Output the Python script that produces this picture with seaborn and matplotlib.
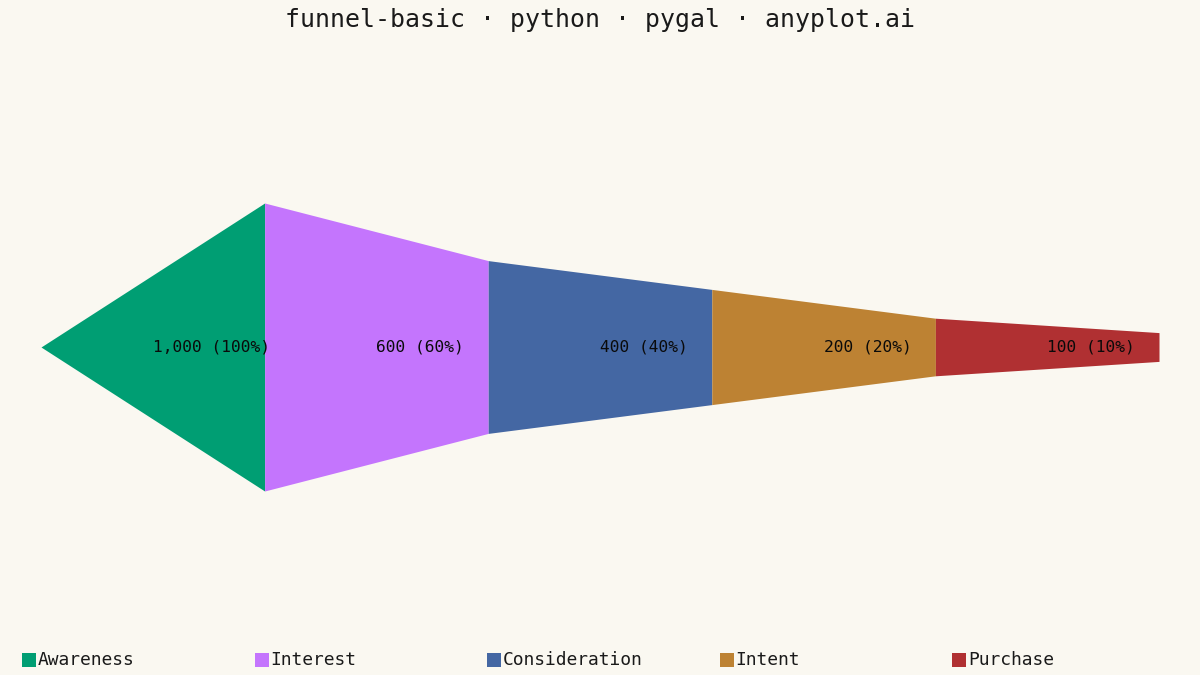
import matplotlib.pyplot as plt
import seaborn as sns
from matplotlib.patches import Rectangle

# Funnel data
stages = ['Awareness', 'Interest', 'Consideration', 'Intent', 'Purchase']
values = [1000, 600, 400, 200, 100]
colors = ['#009E73', '#C475FD', '#4467A3', '#BD8233', '#B03032']
title = 'funnel-basic · python · pygal · anyplot.ai'

bg = '#FAF8F1'
sns.set_theme(style='white')
plt.rcParams['font.family'] = ['DejaVu Sans Mono', 'DejaVu Sans']

fig = plt.figure(figsize=(12, 6.75), dpi=100, facecolor=bg)
ax = fig.add_axes([41 / 1200, (675 - 491) / 675, (1159 - 41) / 1200, 288 / 675])
ax.set_facecolor(bg)

# each segment tapers from the previous stage's width to its own
prev = [0] + values[:-1]
for i, (name, v, p, c) in enumerate(zip(stages, values, prev, colors)):
    xs = [i, i + 1]
    top = [p / 2, v / 2]
    bot = [-p / 2, -v / 2]
    ax.fill_between(xs, bot, top, color=c, linewidth=0)
    pct = v / values[0] * 100
    ax.text(i + 0.5, 0, f'{v:,} ({pct:.0f}%)', ha='left', va='center',
            fontsize=11.7, color='#0a0a0a')

ax.set_xlim(0, len(stages))
ax.set_ylim(-values[0] / 2, values[0] / 2)
ax.set_axis_off()

fig.text(0.5, 1 - 20 / 675, title, ha='center', va='center', fontsize=17.9, color='#1a1a1a')

# legend along the bottom
for i, (name, c) in enumerate(zip(stages, colors)):
    x0 = 22 + i * 232.5
    fig.add_artist(Rectangle((x0 / 1200, (675 - 667) / 675), 14 / 1200, 14 / 675,
                             transform=fig.transFigure, facecolor=c, edgecolor='none'))
    fig.text((x0 + 16) / 1200, 1 - 660 / 675, name, ha='left', va='center',
             fontsize=12.9, color='#1a1a1a')

fig.savefig('out.png', dpi=100, facecolor=bg)
